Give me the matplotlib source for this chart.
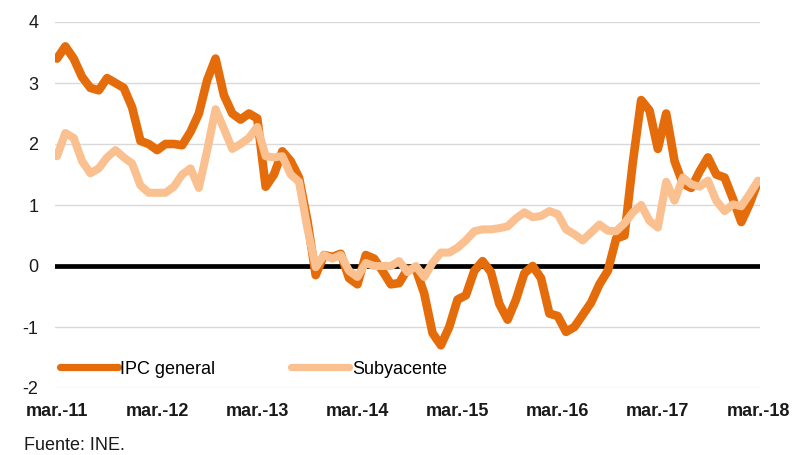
import numpy as np
import matplotlib
matplotlib.use("Agg")
import matplotlib.pyplot as plt

# monthly annual rates, mar-2011 .. mar-2018
ipc_general = [3.40, 3.60, 3.40, 3.10, 2.92, 2.88, 3.08, 3.00, 2.92, 2.60, 2.05, 2.00,
               1.90, 2.00, 2.00, 1.98, 2.20, 2.50, 3.05, 3.40, 2.80, 2.50, 2.40, 2.50,
               2.42, 1.30, 1.50, 1.88, 1.72, 1.45, 0.75, -0.15, 0.18, 0.15, 0.20, -0.20,
               -0.30, 0.18, 0.12, -0.08, -0.30, -0.28, -0.05, -0.05, -0.45, -1.10, -1.30, -1.00,
               -0.55, -0.48, -0.08, 0.08, -0.10, -0.62, -0.88, -0.55, -0.12, 0.00, -0.20, -0.78,
               -0.82, -1.08, -1.00, -0.80, -0.60, -0.30, -0.08, 0.45, 0.50, 1.70, 2.72, 2.55,
               1.92, 2.50, 1.72, 1.35, 1.28, 1.55, 1.78, 1.50, 1.45, 1.10, 0.72, 1.02,
               1.38]
subyacente = [1.80, 2.18, 2.10, 1.72, 1.52, 1.60, 1.78, 1.90, 1.78, 1.68, 1.32, 1.20,
              1.20, 1.20, 1.30, 1.50, 1.60, 1.28, 1.90, 2.57, 2.25, 1.92, 2.00, 2.10,
              2.28, 1.80, 1.78, 1.80, 1.50, 1.38, 0.62, -0.02, 0.18, 0.12, 0.18, -0.08,
              -0.18, 0.05, 0.00, 0.00, 0.00, 0.08, -0.10, 0.00, -0.18, 0.05, 0.22, 0.22,
              0.30, 0.42, 0.57, 0.60, 0.60, 0.62, 0.65, 0.78, 0.88, 0.80, 0.82, 0.90,
              0.85, 0.60, 0.52, 0.42, 0.55, 0.68, 0.58, 0.57, 0.70, 0.88, 1.00, 0.74,
              0.63, 1.38, 1.07, 1.45, 1.34, 1.30, 1.40, 1.07, 0.90, 1.01, 0.98, 1.18,
              1.40]
tick_labels = ["mar.-11", "mar.-12", "mar.-13", "mar.-14", "mar.-15", "mar.-16", "mar.-17", "mar.-18"]
y_ticks = [-2, -1, 0, 1, 2, 3, 4]

c_ipc = "#E46C0A"
c_sub = "#FAC090"

plt.rcParams['font.family'] = ['Liberation Sans', 'DejaVu Sans']

fig = plt.figure(figsize=(7.92, 4.55), dpi=100)
ax = fig.add_axes([55/792, 1-388/455, 705/792, 366/455])

x = np.arange(len(ipc_general))
ax.axhline(0, color="black", lw=3.4, zorder=2)
ax.plot(x, ipc_general, color=c_ipc, lw=6.2, solid_capstyle="round", solid_joinstyle="round",
        label="IPC general", zorder=3)
ax.plot(x, subyacente, color=c_sub, lw=5.8, solid_capstyle="round", solid_joinstyle="round",
        label="Subyacente", zorder=4)

ax.set_ylim(-2, 4)
ax.set_xlim(-0.24, len(x) - 1 + 0.24)
ax.set_yticks(y_ticks)
ax.set_yticklabels([str(v) for v in y_ticks], fontsize=13, color="#1a1a1a")
ax.set_xticks(np.arange(0, len(x), 12))
ax.set_xticklabels(tick_labels, fontsize=13, fontweight="bold", color="#1a1a1a")
ax.tick_params(axis="y", length=0, pad=12)
ax.tick_params(axis="x", length=0, pad=11)
ax.grid(axis="y", color="#D9D9D9", lw=1)
ax.set_axisbelow(True)
for s in ax.spines.values():
    s.set_visible(False)

leg = fig.legend(loc="center left", bbox_to_anchor=(60/792, 1-369/455), ncol=2, frameon=False,
                 fontsize=13, handlelength=3.2, handletextpad=0.15, columnspacing=4.2,
                 borderpad=0, borderaxespad=0)
for line in leg.get_lines():
    line.set_linewidth(5.2)
    line.set_solid_capstyle("round")

fig.text(24/792, 1-446/455, "Fuente: INE.", fontsize=13, color="#1a1a1a", va="center", ha="left")

fig.savefig("out.png", dpi=100)
